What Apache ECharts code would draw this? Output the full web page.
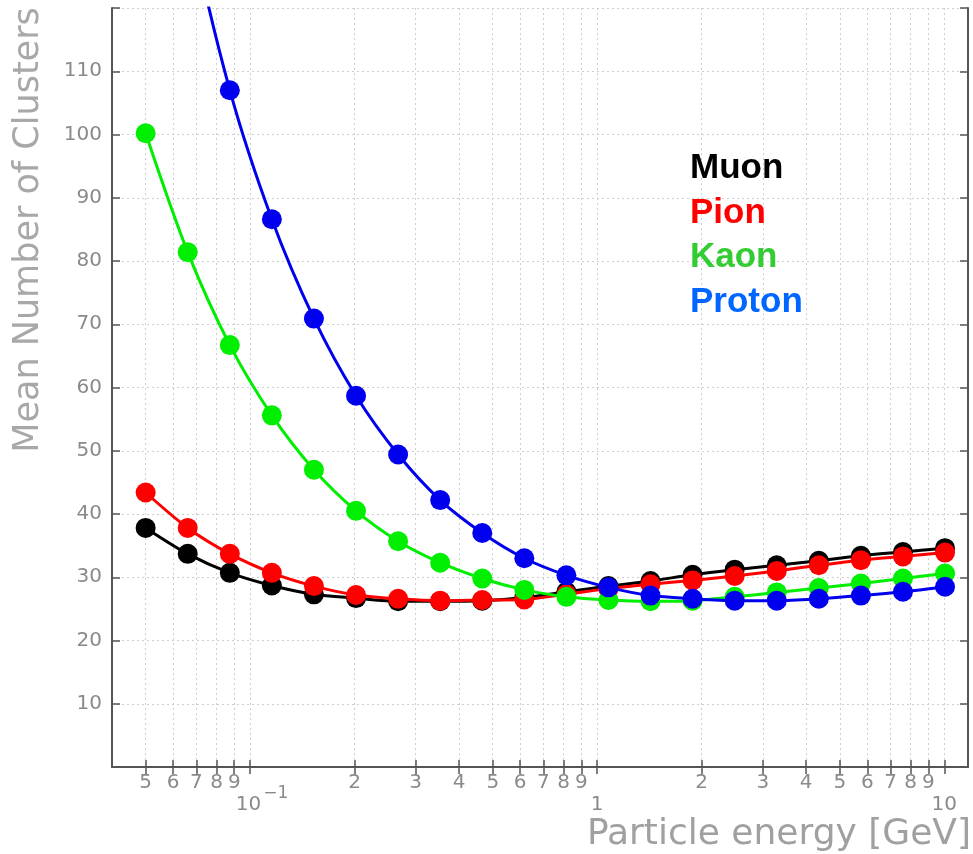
<!DOCTYPE html>
<html><head><meta charset="utf-8">
<script src="https://cdn.jsdelivr.net/npm/echarts@6/dist/echarts.min.js"></script>
<style>html,body{margin:0;padding:0;background:#fff}#c{width:973px;height:854px}</style>
</head><body><div id="c"></div>
<script>
// ---- data ----
const energies = [0.05, 0.0661, 0.0874, 0.1155, 0.1527, 0.2019, 0.2669, 0.3528, 0.4664, 0.6165,
                  0.8150, 1.0774, 1.4242, 1.8827, 2.4888, 3.2900, 4.3491, 5.7491, 7.5998, 10.046];
const muon   = [37.8, 33.7, 30.7, 28.7, 27.3, 26.7, 26.2, 26.2, 26.3, 26.8, 27.7, 28.6, 29.4, 30.4, 31.2, 31.9, 32.6, 33.4, 34.0, 34.6];
const pion   = [43.4, 37.8, 33.7, 30.7, 28.6, 27.2, 26.6, 26.3, 26.4, 26.5, 27.3, 28.2, 28.9, 29.5, 30.2, 31.0, 31.9, 32.7, 33.3, 33.9];
const kaon   = [100.2, 81.4, 66.7, 55.6, 47.0, 40.5, 35.7, 32.3, 29.8, 28.0, 26.9, 26.4, 26.2, 26.3, 26.9, 27.6, 28.3, 29.0, 29.8, 30.6];
const proton = [170, 135, 107.0, 86.6, 70.9, 58.7, 49.4, 42.2, 37.0, 33.0, 30.3, 28.4, 27.1, 26.6, 26.3, 26.3, 26.6, 27.1, 27.7, 28.5];
const seriesNames = ['Muon', 'Pion', 'Kaon', 'Proton'];
const xTickValues = [0.05, 0.06, 0.07, 0.08, 0.09, 0.1,
                     0.2, 0.3, 0.4, 0.5, 0.6, 0.7, 0.8, 0.9, 1,
                     2, 3, 4, 5, 6, 7, 8, 9, 10];
const xTickLabels = ['5', '6', '7', '8', '9', '10^-1',
                     '2', '3', '4', '5', '6', '7', '8', '9', '1',
                     '2', '3', '4', '5', '6', '7', '8', '9', '10'];
const xAxisTitle = 'Particle energy [GeV]';
const yAxisTitle = 'Mean Number of Clusters';

// ---- chart ----
const seriesData = [muon, pion, kaon, proton];
const lineColors = ['#000000', '#ff0000', '#00ee00', '#0000ee'];
const legendColors = ['#000000', '#ff0000', '#33cc33', '#0066ff'];
const X_MIN = 0.04, X_MAX = 11.7;
const axisCol = '#555';
const labelCol = '#8a8a8a';
const FONT = '"DejaVu Sans", sans-serif';

function fmtX(v) {
  const i = xTickValues.findIndex(t => Math.abs(t - v) < t * 1e-6);
  if (i < 0) return '';
  const s = xTickLabels[i];
  const isDecade = Math.abs(Math.log10(v) - Math.round(Math.log10(v))) < 1e-6;
  if (!isDecade) return '{d|' + s + '}';
  if (s.indexOf('^') >= 0) {
    const parts = s.split('^');
    return '{pad| }{dec|' + parts[0] + '}{sup|' + parts[1].replace('-', '\u2212') + '}';
  }
  return '{dec2|' + s + '}';
}

const chart = echarts.init(document.getElementById('c'), null, {renderer: 'canvas'});
chart.setOption({
  animation: false,
  backgroundColor: '#fff',
  grid: {left: 112, right: 5, top: 8, bottom: 87, containLabel: false},
  legend: {
    orient: 'vertical', left: 680, top: 146,
    itemWidth: 0, itemHeight: 0, itemGap: 9.6,
    selectedMode: false,
    data: seriesNames.map((n, i) => ({name: n, icon: 'circle', textStyle: {color: legendColors[i]}})),
    textStyle: {fontFamily: '"Liberation Sans", Arial, sans-serif', fontWeight: 'bold', fontSize: 35}
  },
  xAxis: [{
    type: 'log', min: X_MIN, max: X_MAX, position: 'bottom',
    axisLine: {show: true, lineStyle: {color: axisCol, width: 2}},
    axisTick: {show: true, inside: true, length: 7, customValues: xTickValues, lineStyle: {color: axisCol, width: 1.5}},
    axisLabel: {
      show: true, margin: 4, customValues: xTickValues, formatter: fmtX, hideOverlap: false,
      showMinLabel: true, showMaxLabel: true,
      color: labelCol, fontFamily: FONT, fontSize: 20,
      rich: {
        d: {fontSize: 20, color: labelCol, fontFamily: FONT, lineHeight: 23},
        dec: {fontSize: 20, color: labelCol, fontFamily: FONT, lineHeight: 23},
        dec2: {fontSize: 20, color: labelCol, fontFamily: FONT, lineHeight: 68},
        pad: {width: 24, lineHeight: 68, fontSize: 10},
        sup: {fontSize: 17, color: labelCol, fontFamily: FONT, verticalAlign: 'top', padding: [14, 0, 0, 2]}
      }
    },
    splitLine: {show: true, lineStyle: {color: '#cfcfcf', type: [2, 3], width: 1}}
  }, {
    type: 'log', min: X_MIN, max: X_MAX, position: 'top',
    axisLine: {show: true, lineStyle: {color: axisCol, width: 2}},
    axisTick: {show: true, inside: true, length: 7, customValues: xTickValues, lineStyle: {color: axisCol, width: 1.5}},
    axisLabel: {show: false},
    splitLine: {show: false}
  }],
  yAxis: [{
    type: 'value', min: 0, max: 120, interval: 10, position: 'left',
    axisLine: {show: true, lineStyle: {color: axisCol, width: 2}},
    axisTick: {show: true, inside: true, length: 8, lineStyle: {color: axisCol, width: 1.5}},
    axisLabel: {
      margin: 10, color: labelCol, fontFamily: FONT, fontSize: 20,
      formatter: v => (v <= 0 || v >= 120) ? '' : String(v)
    },
    splitLine: {show: true, lineStyle: {color: '#cfcfcf', type: [2, 3], width: 1}}
  }, {
    type: 'value', min: 0, max: 120, interval: 10, position: 'right',
    axisLine: {show: true, lineStyle: {color: axisCol, width: 2}},
    axisTick: {show: true, inside: true, length: 8, lineStyle: {color: axisCol, width: 1.5}},
    axisLabel: {show: false},
    splitLine: {show: false}
  }],
  series: seriesNames.map((n, k) => ({
    name: n, type: 'line', xAxisIndex: 0, yAxisIndex: 0,
    data: energies.map((x, i) => [x, seriesData[k][i]]),
    smooth: 0.3, clip: true,
    symbol: 'circle', symbolSize: 20,
    itemStyle: {color: lineColors[k]},
    lineStyle: {color: lineColors[k], width: 3},
    emphasis: {disabled: true},
    z: 2 + k
  })),
  graphic: [{
    type: 'text', x: 29, y: 230, rotation: Math.PI / 2,
    style: {text: yAxisTitle, fill: '#a8a8a8', font: '35px ' + FONT, align: 'center', verticalAlign: 'middle'}
  }, {
    type: 'text', x: 971, y: 835,
    style: {text: xAxisTitle, fill: '#a0a0a0', font: '36px ' + FONT, align: 'right', verticalAlign: 'middle'}
  }]
});
</script>
</body></html>
